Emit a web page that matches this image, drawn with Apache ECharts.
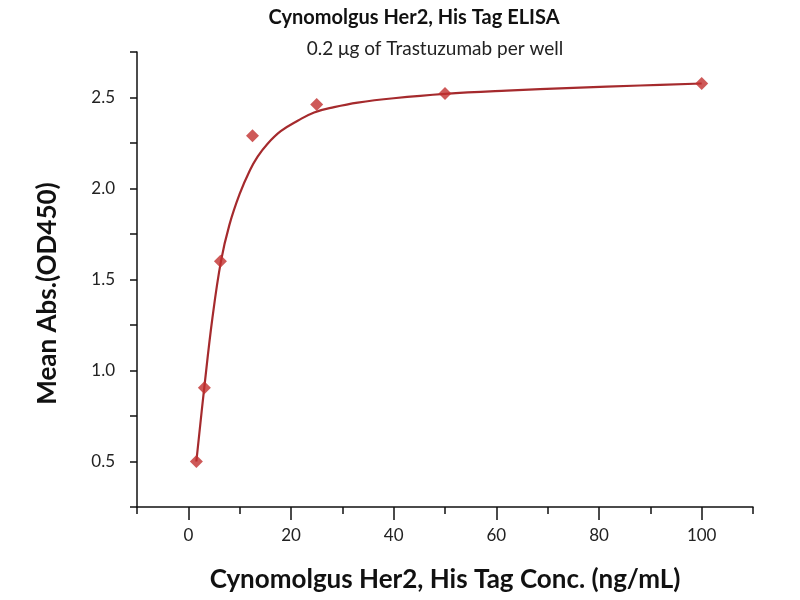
<!DOCTYPE html>
<html>
<head>
<meta charset="utf-8">
<script src="https://cdn.jsdelivr.net/npm/echarts@6/dist/echarts.min.js"></script>
<style>html,body{margin:0;padding:0;background:#fff}#c{width:800px;height:600px}</style>
</head>
<body>
<div id="c"></div>
<script>
// Measured data points (concentration ng/mL, mean OD450)
const concentrations = [1.5625, 3.125, 6.25, 12.5, 25, 50, 100];
const meanAbs = [0.50, 0.905, 1.60, 2.29, 2.462, 2.522, 2.577];

// Fitted curve
const curveX = [1.56, 3.11, 4.7, 6.36, 8.0, 10.0, 12.0, 13.5, 15.4, 18.0, 21.3, 24.5, 28.4, 33.0, 40, 50, 62, 75, 88, 100];
const curveY = [0.50, 0.907, 1.29, 1.601, 1.80, 1.97, 2.10, 2.175, 2.245, 2.315, 2.372, 2.418, 2.447, 2.472, 2.496, 2.52, 2.538, 2.553, 2.566, 2.577];

// Tick labels / tick positions
const xTickLabels = [0, 20, 40, 60, 80, 100];
const xAllTicks = [-10, 0, 10, 20, 30, 40, 50, 60, 70, 80, 90, 100, 110];
const yTickLabels = ['0.5', '1.0', '1.5', '2.0', '2.5'];

const FONT = 'Lato';
const chart = echarts.init(document.getElementById('c'));
chart.setOption({
  backgroundColor: '#fff',
  animation: false,
  title: [
    { text: 'Cynomolgus Her2, His Tag ELISA', left: 409, top: 3, textAlign: 'center',
      textStyle: { fontFamily: FONT, fontWeight: 'bold', fontSize: 20, color: '#111' } },
    { text: '0.2 μg of Trastuzumab per well', left: 430, top: 34, textAlign: 'center',
      textStyle: { fontFamily: FONT, fontWeight: 'normal', fontSize: 19, color: '#222' } }
  ],
  grid: { left: 137, right: 47, top: 52, bottom: 93, containLabel: false },
  xAxis: [
    {
      type: 'value', min: -10, max: 110, interval: 10,
      name: 'Cynomolgus Her2, His Tag Conc. (ng/mL)', nameLocation: 'middle', nameGap: 60,
      nameTextStyle: { fontFamily: FONT, fontWeight: 'bold', fontSize: 26, color: '#111' },
      axisLine: { onZero: false, lineStyle: { color: '#111', width: 1.5 } },
      axisTick: { show: true, length: 7, lineStyle: { color: '#111', width: 1.5 } },
      axisLabel: { margin: 20, fontFamily: FONT, fontSize: 17, color: '#222',
        formatter: v => xTickLabels.indexOf(Math.round(v)) >= 0 && Math.abs(v - Math.round(v)) < 1e-6 ? String(Math.round(v)) : '' },
      splitLine: { show: false }
    },
    {
      // overlay axis giving the longer major ticks at 0, 20, ... 100
      type: 'category', data: xAllTicks.map(String), boundaryGap: false,
      position: 'bottom', gridIndex: 0,
      axisLine: { show: false, onZero: false },
      axisTick: { show: true, length: 13, interval: (idx, val) => xTickLabels.indexOf(Number(val)) >= 0,
        lineStyle: { color: '#111', width: 1.5 } },
      axisLabel: { show: false },
      splitLine: { show: false }
    }
  ],
  yAxis: {
    type: 'value', min: 0.25, max: 2.75, interval: 0.25,
    name: 'Mean Abs.(OD450)', nameLocation: 'middle', nameGap: 76,
    nameTextStyle: { fontFamily: FONT, fontWeight: 'bold', fontSize: 26, color: '#111', padding: [0, 28, 0, 0] },
    axisLine: { show: true, onZero: false, lineStyle: { color: '#111', width: 1.5 } },
    axisTick: { show: true, length: 7, lineStyle: { color: '#111', width: 1.5 } },
    axisLabel: { margin: 22, fontFamily: FONT, fontSize: 17, color: '#222',
      formatter: v => { const s = v.toFixed(1); return (yTickLabels.indexOf(s) >= 0 && Math.abs(v * 2 - Math.round(v * 2)) < 1e-6) ? s : ''; } },
    splitLine: { show: false }
  },
  series: [
    {
      type: 'line', xAxisIndex: 0, data: curveX.map((x, i) => [x, curveY[i]]),
      smooth: 0.4, showSymbol: false, symbol: 'none',
      lineStyle: { color: '#a52a2d', width: 2.2 }, z: 2
    },
    {
      type: 'scatter', xAxisIndex: 0, data: concentrations.map((x, i) => [x, meanAbs[i]]),
      symbol: 'diamond', symbolSize: 13,
      itemStyle: { color: '#c2302e' }, z: 3
    }
  ]
});
</script>
</body>
</html>
